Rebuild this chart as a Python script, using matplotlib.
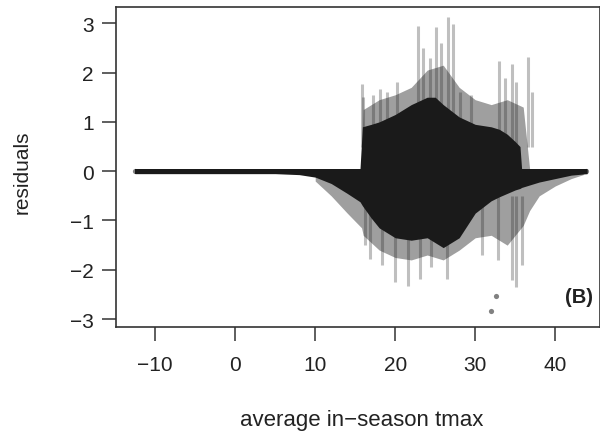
import numpy as np
import matplotlib
matplotlib.use("Agg")
import matplotlib.pyplot as plt

plt.rcParams['font.family'] = ['Liberation Sans', 'DejaVu Sans']

# --- data ---
# horizontal near-zero band of residuals
band_x = [-12.5, 44.0]
band_half = [0.05, 0.05]

# dense core envelope (x, upper, lower)
core_x  = [-12.5, 5, 8, 10, 12, 14, 15.6, 15.9, 17, 18, 20, 22, 24, 25, 26, 28, 30, 32, 33, 34, 35, 35.6, 35.8, 38, 40, 42, 44]
core_hi = [0.05, 0.05, 0.05, 0.05, 0.05, 0.05, 0.05, 0.9, 0.95, 1.0, 1.15, 1.35, 1.5, 1.5, 1.35, 1.1, 0.95, 0.9, 0.85, 0.75, 0.6, 0.5, 0.05, 0.05, 0.05, 0.05, 0.05]
core_lo = [-0.05, -0.05, -0.07, -0.12, -0.25, -0.45, -0.62, -0.7, -0.95, -1.15, -1.35, -1.4, -1.35, -1.45, -1.55, -1.35, -0.85, -0.6, -0.52, -0.45, -0.38, -0.35, -0.33, -0.22, -0.15, -0.08, -0.05]

# darker speckled zone around the core
halo_x  = [10, 12, 14, 15.8, 16, 18, 20, 22, 24, 26, 28, 30, 32, 34, 36, 36.8, 38, 40, 42, 43.5]
halo_hi = [0.05, 0.05, 0.05, 0.05, 1.25, 1.45, 1.55, 1.7, 2.05, 2.15, 1.7, 1.45, 1.35, 1.45, 1.3, 0.05, 0.05, 0.05, 0.05, 0.05]
halo_lo = [-0.2, -0.5, -0.85, -1.15, -1.3, -1.6, -1.75, -1.8, -1.7, -1.8, -1.6, -1.35, -1.3, -1.5, -1.1, -0.8, -0.5, -0.3, -0.15, -0.07]

# vertical streaks of sparse points (x, extreme value)
up_x  = [15.9, 16.0, 17.2, 18.1, 19.0, 20.2, 22.9, 23.5, 24.3, 25.1, 25.7, 26.6, 27.2, 28.1, 29.5, 33.0, 33.7, 34.6, 35.1, 36.6, 37.1]
up_hi = [1.76, 1.5, 1.55, 1.66, 1.6, 1.8, 2.94, 2.5, 2.3, 2.92, 2.6, 3.12, 2.98, 1.6, 1.55, 2.23, 1.9, 2.17, 1.8, 2.31, 1.6]
dn_x  = [16.2, 16.9, 18.4, 20.0, 21.6, 23.1, 24.5, 26.5, 30.8, 32.8, 34.6, 35.1, 35.9]
dn_lo = [-1.5, -1.79, -1.9, -2.25, -2.33, -2.19, -1.95, -2.19, -1.7, -1.8, -2.2, -2.35, -1.9]

# isolated outliers
out_x = [32.0, 32.6, -12.5, 43.9]
out_y = [-2.84, -2.54, 0.0, 0.0]

xticks = [-10, 0, 10, 20, 30, 40]
yticks = [-3, -2, -1, 0, 1, 2, 3]

# --- figure ---
fig = plt.figure(figsize=(6.0, 4.35), dpi=100)
ax = fig.add_axes([116/600, 1-328/435, (600-116)/600, (328-7.5)/435])

dark = '#1a1a1a'
ax.fill_between(halo_x, halo_lo, halo_hi, color=dark, alpha=0.42, lw=0)
for x, h in zip(up_x, up_hi):
    ax.vlines(x, 0.5, h, color=dark, alpha=0.28, lw=2.2)
for x, l in zip(dn_x, dn_lo):
    ax.vlines(x, -0.5, l, color=dark, alpha=0.28, lw=2.2)
ax.fill_between(core_x, core_lo, core_hi, color=dark, lw=0)
ax.fill_between(band_x, [-b for b in band_half], band_half, color=dark, lw=0)
ax.scatter(out_x, out_y, s=14, color=dark, alpha=0.55, lw=0)

ax.set_xlim(-14.9, 45.6)
ax.set_ylim(-3.16, 3.34)
ax.set_xticks(xticks)
ax.set_yticks(yticks)
ax.set_xticklabels([str(t).replace('-', '\u2212') for t in xticks])
ax.set_yticklabels([str(t).replace('-', '\u2212') for t in yticks])
ax.tick_params(axis='both', direction='out', length=10, width=1.1, color='#333333',
               labelsize=15, labelcolor='#222222')
ax.tick_params(axis='x', pad=10)
ax.tick_params(axis='y', pad=6)
for s in ax.spines.values():
    s.set_linewidth(1.2)
    s.set_color('#333333')

fig.text(22/600, 1-172/435, 'residuals', rotation=90, ha='center', va='center',
         fontsize=15, color='#222222')
fig.text(362/600, 1-421/435, 'average in\u2212season tmax', ha='center', va='center',
         fontsize=16, color='#222222')
ax.text(0.985, 0.095, '(B)', transform=ax.transAxes, ha='right', va='center',
        fontsize=14.5, fontweight='bold', color='#222222')

fig.savefig('out.png', dpi=100)
